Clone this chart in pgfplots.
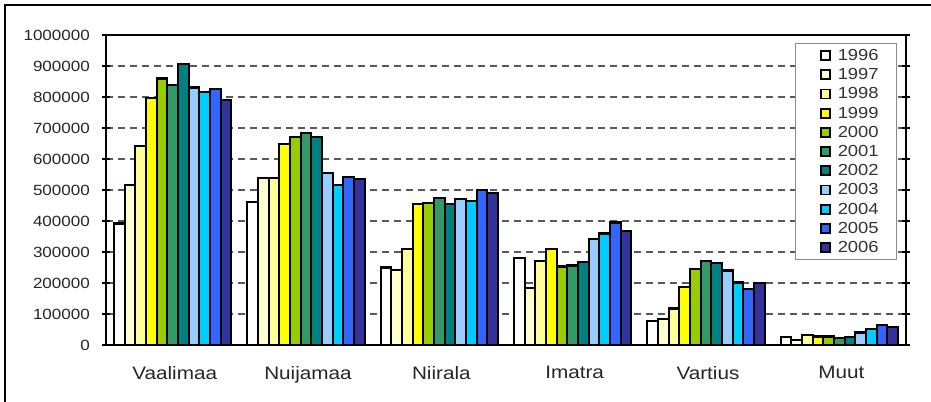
\documentclass[border=0pt]{standalone}
\usepackage{pgfplots}
\pgfplotsset{compat=1.18}
\usepackage{fontspec}
\setmainfont{Liberation Sans}[FakeStretch=1.15]
\definecolor{c1996}{HTML}{FFFFFF}
\definecolor{c1997}{HTML}{FFFFCC}
\definecolor{c1998}{HTML}{FFFF99}
\definecolor{c1999}{HTML}{FFFF00}
\definecolor{c2000}{HTML}{99CC00}
\definecolor{c2001}{HTML}{339966}
\definecolor{c2002}{HTML}{008080}
\definecolor{c2003}{HTML}{99CCFF}
\definecolor{c2004}{HTML}{00CCFF}
\definecolor{c2005}{HTML}{3366FF}
\definecolor{c2006}{HTML}{333399}
\pgfplotsset{
  mybar/.style={ybar, bar width=0.08, draw=black, line width=2.3bp, fill=#1},
}
\begin{document}
\begin{tikzpicture}
\useasboundingbox (0bp,0bp) rectangle (931bp,402bp);
\draw[line width=2bp] (5bp,0bp) -- (5bp,397bp) -- (931bp,397bp);
\begin{axis}[
  at={(106bp,57bp)}, anchor=south west,
  scale only axis, width=800bp, height=310bp,
  xmin=-0.5, xmax=5.5, ymin=0, ymax=1000000,
  xtick={0,1,2,3,4,5},
  xticklabels={Vaalimaa,Nuijamaa,Niirala,Imatra,Vartius,Muut},
  x tick style={draw=none},
  ytick={0,100000,200000,300000,400000,500000,600000,700000,800000,900000,1000000},
  scaled y ticks=false,
  yticklabel style={/pgf/number format/fixed, /pgf/number format/1000 sep={}, inner sep=0bp, xshift=-12bp, font=\fontsize{14.8bp}{16bp}\selectfont},
  /pgf/number format/assume math mode=true,
  tick label style={text=black!85},
  xticklabel style={inner sep=0bp, yshift=-17bp, xshift=2bp, font=\fontsize{18bp}{20bp}\selectfont},
  y tick style={black, line width=1.2bp},
  tick align=center, major tick length=8bp,
  ymajorgrids,
  major grid style={dash pattern=on 7bp off 5bp, black!65, line width=1.3bp},
  axis line style={line width=2.6bp, black},
  legend style={at={(0.989,0.974)}, anchor=north east, draw=black!45, line width=0.9bp,
    fill=white, inner xsep=0bp, inner ysep=2.5bp, row sep=0bp, column sep=0bp,
    font=\fontsize{16bp}{18bp}\selectfont,
    nodes={inner sep=0bp, text width=59bp, minimum height=19.2bp, text=black!80}},
  legend image code/.code={\path (-24bp,0bp); \draw[#1, line width=1.8bp] (0bp,-4.5bp) rectangle (9bp,4.5bp); \path (16bp,0bp);},
]
\addplot[mybar=c1996, bar shift=-0.40] coordinates {(0,392000) (1,462000) (2,250000) (3,280000) (4,78000) (5,25000)};
\addlegendentry{1996}
\addplot[mybar=c1997, bar shift=-0.32] coordinates {(0,516000) (1,538000) (2,242000) (3,183000) (4,84000) (5,16000)};
\addlegendentry{1997}
\addplot[mybar=c1998, bar shift=-0.24] coordinates {(0,643000) (1,538000) (2,310000) (3,271000) (4,118000) (5,32000)};
\addlegendentry{1998}
\addplot[mybar=c1999, bar shift=-0.16] coordinates {(0,797000) (1,648000) (2,454000) (3,310000) (4,188000) (5,27000)};
\addlegendentry{1999}
\addplot[mybar=c2000, bar shift=-0.08] coordinates {(0,860000) (1,670000) (2,457000) (3,253000) (4,245000) (5,27000)};
\addlegendentry{2000}
\addplot[mybar=c2001, bar shift=0] coordinates {(0,839000) (1,683000) (2,475000) (3,256000) (4,271000) (5,22000)};
\addlegendentry{2001}
\addplot[mybar=c2002, bar shift=0.08] coordinates {(0,906000) (1,670000) (2,454000) (3,267000) (4,265000) (5,25000)};
\addlegendentry{2002}
\addplot[mybar=c2003, bar shift=0.16] coordinates {(0,831000) (1,554000) (2,470000) (3,342000) (4,240000) (5,40000)};
\addlegendentry{2003}
\addplot[mybar=c2004, bar shift=0.24] coordinates {(0,815000) (1,516000) (2,465000) (3,360000) (4,202000) (5,51000)};
\addlegendentry{2004}
\addplot[mybar=c2005, bar shift=0.32] coordinates {(0,826000) (1,541000) (2,500000) (3,395000) (4,181000) (5,65000)};
\addlegendentry{2005}
\addplot[mybar=c2006, bar shift=0.40] coordinates {(0,790000) (1,535000) (2,491000) (3,368000) (4,199000) (5,57000)};
\addlegendentry{2006}
\end{axis}
\end{tikzpicture}
\end{document}
